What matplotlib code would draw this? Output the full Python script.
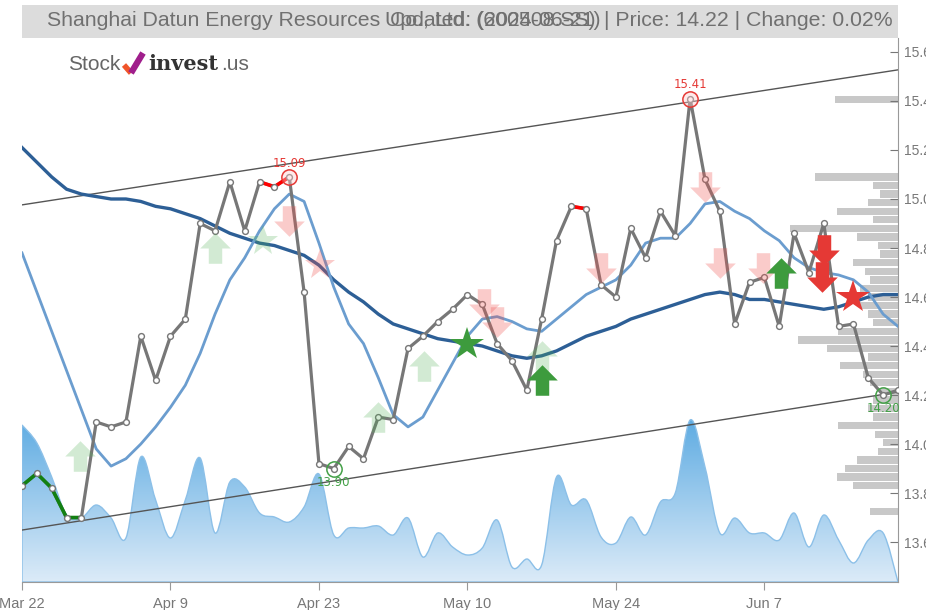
import numpy as np
import matplotlib
matplotlib.use("Agg")
import matplotlib.pyplot as plt
from matplotlib.path import Path
from matplotlib.patches import PathPatch, Rectangle
from matplotlib.lines import Line2D
from matplotlib.colors import LinearSegmentedColormap

plt.rcParams['font.family'] = ['Liberation Sans Narrow', 'Liberation Sans', 'DejaVu Sans']

# daily closes (trading days Mar 22 .. Jun 21)
close = [13.83, 13.88, 13.82, 13.70, 13.70, 14.09, 14.07, 14.09, 14.44, 14.26,
         14.44, 14.51, 14.90, 14.87, 15.07, 14.87, 15.07, 15.05, 15.09, 14.62,
         13.92, 13.90, 13.99, 13.94, 14.11, 14.10, 14.39, 14.44, 14.50, 14.55,
         14.61, 14.57, 14.41, 14.34, 14.22, 14.51, 14.83, 14.97, 14.96, 14.65,
         14.60, 14.88, 14.76, 14.95, 14.85, 15.41, 15.08, 14.95, 14.49, 14.66,
         14.68, 14.48, 14.86, 14.70, 14.90, 14.48, 14.49, 14.27, 14.20, 14.22]

# fast / slow moving averages
ma_fast = [14.78, 14.62, 14.46, 14.30, 14.14, 13.98, 13.91, 13.94, 14.00, 14.07,
           14.15, 14.24, 14.37, 14.53, 14.67, 14.76, 14.87, 14.96, 15.02, 14.99,
           14.82, 14.64, 14.49, 14.41, 14.27, 14.12, 14.07, 14.11, 14.22, 14.33,
           14.44, 14.51, 14.52, 14.50, 14.47, 14.46, 14.51, 14.56, 14.61, 14.64,
           14.67, 14.73, 14.82, 14.84, 14.84, 14.90, 14.98, 14.99, 14.95, 14.92,
           14.87, 14.83, 14.76, 14.72, 14.70, 14.69, 14.67, 14.62, 14.53, 14.48]
ma_slow = [15.21, 15.15, 15.09, 15.04, 15.02, 15.01, 15.00, 15.00, 14.99, 14.97,
           14.96, 14.94, 14.92, 14.89, 14.86, 14.84, 14.82, 14.81, 14.79, 14.77,
           14.73, 14.67, 14.62, 14.58, 14.53, 14.49, 14.47, 14.45, 14.43, 14.42,
           14.41, 14.40, 14.38, 14.36, 14.35, 14.36, 14.38, 14.41, 14.44, 14.46,
           14.48, 14.51, 14.53, 14.55, 14.57, 14.59, 14.61, 14.62, 14.61, 14.59,
           14.59, 14.58, 14.57, 14.56, 14.55, 14.56, 14.58, 14.60, 14.61, 14.61]

volume = [157, 139, 105, 67, 64, 77, 64, 44, 125, 82, 44, 82, 124, 49, 100, 95, 69, 65, 60, 75,
          108, 47, 54, 54, 56, 47, 64, 25, 49, 35, 27, 34, 62, 15, 23, 17, 105, 77, 82, 45,
          39, 65, 47, 80, 89, 162, 115, 49, 64, 49, 49, 42, 69, 35, 67, 42, 19, 42, 49, 0]

# volume-at-price profile
prof_price = [15.405, 15.09, 15.055, 15.02, 14.985, 14.95, 14.915, 14.88, 14.845, 14.81,
              14.775, 14.74, 14.705, 14.67, 14.635, 14.60, 14.565, 14.53, 14.495, 14.46,
              14.425, 14.39, 14.355, 14.32, 14.285, 14.25, 14.215, 14.18, 14.145, 14.11,
              14.075, 14.04, 14.005, 13.97, 13.935, 13.90, 13.865, 13.83, 13.725]
prof_vol = [63, 83, 25, 18, 30, 61, 25, 108, 41, 20,
            18, 45, 33, 28, 38, 30, 38, 30, 25, 60,
            100, 71, 30, 58, 35, 28, 18, 25, 30, 25,
            60, 23, 15, 20, 41, 53, 61, 45, 28]

# trend channel (start, end)
chan_upper = [14.976, 15.527]
chan_lower = [13.649, 14.212]

tick_idx = [0, 10, 20, 30, 40, 50]
tick_lbl = ['Mar 22', 'Apr 9', 'Apr 23', 'May 10', 'May 24', 'Jun 7']
price_ticks = [13.6, 13.8, 14.0, 14.2, 14.4, 14.6, 14.8, 15.0, 15.2, 15.4, 15.6]

# signals: (index, price)
fade_up = [(3.9, 13.95), (13.0, 14.80), (24.0, 14.11), (27.1, 14.32), (35.0, 14.36)]
fade_down = [(18.0, 14.91), (31.1, 14.57), (32.0, 14.50), (39.0, 14.72), (46.0, 15.05),
             (47.0, 14.74), (49.9, 14.72)]
fade_star_g = [(16.2, 14.83)]
fade_star_r = [(20.1, 14.73)]
buy_arrow = [(35.0, 14.26), (51.1, 14.70)]
sell_arrow = [(54.0, 14.79), (53.9, 14.68)]
buy_star = [(30.0, 14.41)]
sell_star = [(56.0, 14.60)]

W, H = 926, 610
fig = plt.figure(figsize=(W / 100, H / 100), dpi=100)
rect = [22 / W, 1 - 582 / H, 876 / W, 544 / H]
x = np.arange(len(close))
xmax = len(close) - 1


def smooth_path(xs, ys, base=0.0):
    pts = np.column_stack([xs, ys]).astype(float)
    verts = [(xs[0], base), tuple(pts[0])]
    codes = [Path.MOVETO, Path.LINETO]
    n = len(pts)
    for i in range(n - 1):
        p0 = pts[max(i - 1, 0)]
        p1 = pts[i]
        p2 = pts[i + 1]
        p3 = pts[min(i + 2, n - 1)]
        c1 = p1 + (p2 - p0) / 6
        c2 = p2 - (p3 - p1) / 6
        c1[1] = max(c1[1], base)
        c2[1] = max(c2[1], base)
        verts += [tuple(c1), tuple(c2), tuple(p2)]
        codes += [Path.CURVE4] * 3
    verts += [(xs[-1], base), (xs[0], base)]
    codes += [Path.LINETO, Path.CLOSEPOLY]
    return Path(verts, codes)


# volume area with gradient
axv = fig.add_axes(rect, zorder=0)
vpath = smooth_path(x, volume)
cmap = LinearSegmentedColormap.from_list('vol', ['#dcebf8', '#5dabe2'])
grad = np.linspace(0, 1, 256).reshape(-1, 1)
im = axv.imshow(grad, extent=[0, xmax, 0, 165], origin='lower', aspect='auto', cmap=cmap)
patch = PathPatch(vpath, facecolor='none', edgecolor='#8cc0e8', lw=1)
axv.add_patch(patch)
im.set_clip_path(patch)
axv.set_xlim(0, xmax)
axv.set_ylim(0, 544)
axv.axis('off')

# volume profile from the right edge
axp = fig.add_axes(rect, zorder=1)
axp.patch.set_visible(False)
axp.set_xlim(876, 0)
axp.set_ylim(13.437, 15.657)
axp.barh(prof_price, prof_vol, height=0.03, left=0, color='#c8c8c8')
axp.axis('off')

# main price axes
ax = fig.add_axes(rect, zorder=2)
ax.patch.set_visible(False)
ax.set_xlim(0, xmax)
ax.set_ylim(13.437, 15.657)

ax.plot([0, xmax], chan_upper, color='#555555', lw=1)
ax.plot([0, xmax], chan_lower, color='#555555', lw=1)
ax.plot(x, ma_slow, color='#2d5f96', lw=2.4)
ax.plot(x, ma_fast, color='#6b9dcf', lw=2)

ax.plot(x, close, color='#777777', lw=2.3, zorder=3)
ax.plot(x[0:5], close[0:5], color='#128012', lw=2.6, zorder=4)
ax.plot(x[16:19], close[16:19], color='#ff0000', lw=2.6, zorder=4)
ax.plot(x[37:39], close[37:39], color='#ff0000', lw=2.6, zorder=4)
ax.plot(x, close, 'o', ms=4.2, mfc='white', mec='#777777', mew=1, zorder=5)

up = Path([(-0.22, -0.5), (0.22, -0.5), (0.22, 0.0), (0.5, 0.0), (0, 0.5),
           (-0.5, 0.0), (-0.22, 0.0), (-0.22, -0.5)],
          [Path.MOVETO] + [Path.LINETO] * 6 + [Path.CLOSEPOLY])
down = Path(up.vertices * [1, -1], up.codes)


def marks(pts, marker, color, alpha, ms):
    if pts:
        px, py = zip(*pts)
        ax.plot(px, py, ls='none', marker=marker, color=color, alpha=alpha, ms=ms,
                mew=0, zorder=6)


marks(fade_up, up, '#4caf50', 0.25, 22)
marks(fade_down, down, '#ef5350', 0.3, 22)
marks(fade_star_g, '*', '#4caf50', 0.25, 23)
marks(fade_star_r, '*', '#ef5350', 0.3, 23)
marks(buy_arrow, up, '#3d9b3d', 1, 22)
marks(sell_arrow, down, '#e53935', 1, 22)
marks(buy_star, '*', '#3d9b3d', 1, 25)
marks(sell_star, '*', '#e53935', 1, 25)

# high / low annotations
for i, c, off in [(18, '#e53935', 1), (45, '#e53935', 1), (21, '#43a047', -1), (58, '#43a047', -1)]:
    ax.plot(x[i], close[i], 'o', ms=11, mfc=(1, 1, 1, 0) if off < 0 else (1, 0.8, 0.8, 0.4),
            mec=c, mew=1.1, zorder=7)
    ax.annotate(f'{close[i]:.2f}', (x[i], close[i]), xytext=(0, 10 * off),
                textcoords='offset points', ha='center', va='center',
                color=c, fontsize=8.5, family=['DejaVu Sans'], zorder=8)

# axes styling
for s in ['top', 'left']:
    ax.spines[s].set_visible(False)
ax.spines['right'].set_color('#999999')
ax.spines['bottom'].set_color('#999999')
ax.yaxis.tick_right()
ax.set_yticks(price_ticks)
ax.set_yticklabels([f'{p:.1f}' for p in price_ticks])
ax.tick_params(axis='y', direction='in', length=6, color='#777777', labelcolor='#777777',
               labelsize=10, pad=4)
ax.set_xticks(tick_idx)
ax.set_xticklabels(tick_lbl)
ax.tick_params(axis='x', direction='out', length=6, color='#999999', labelcolor='#777777',
               labelsize=10.5, pad=5)

# title bar
fig.add_artist(Rectangle((22 / W, 1 - 38 / H), 876 / W, 33 / H, transform=fig.transFigure,
                         facecolor='#dcdcdc', edgecolor='none', zorder=0))
ty = 1 - 21 / H
tstyle = dict(color='#707070', fontsize=15.3, va='center', family=['Liberation Sans', 'DejaVu Sans'])
fig.text(47 / W, ty, 'Shanghai Datun Energy Resources', ha='left', **tstyle)
fig.text(493 / W, ty, 'Co., Ltd. (600508.SS)', ha='center', **tstyle)
fig.text(493 / W, ty, 'Updated: (2024-06-21)', ha='center', **tstyle)
fig.text(893 / W, ty, '| Price: 14.22 | Change: 0.02%', ha='right', **tstyle)

# logo
ly = 1 - 64 / H
fig.text(68 / W, ly, 'Stock', color='#666666', fontsize=15, va='center')
fig.add_artist(Line2D([124 / W, 131 / W], [1 - 65 / H, 1 - 73 / H], color='#f0552a', lw=4,
                      transform=fig.transFigure, solid_capstyle='butt'))
fig.add_artist(Line2D([131 / W, 143 / W], [1 - 73 / H, 1 - 53 / H], color='#a01e8c', lw=4.5,
                      transform=fig.transFigure, solid_capstyle='butt'))
fig.text(148 / W, ly, 'invest', color='#333333', fontsize=15, fontweight='bold', va='center',
         family=['DejaVu Serif'])
fig.text(221 / W, ly, '.us', color='#666666', fontsize=15, va='center')

fig.savefig('out.png', dpi=100)
